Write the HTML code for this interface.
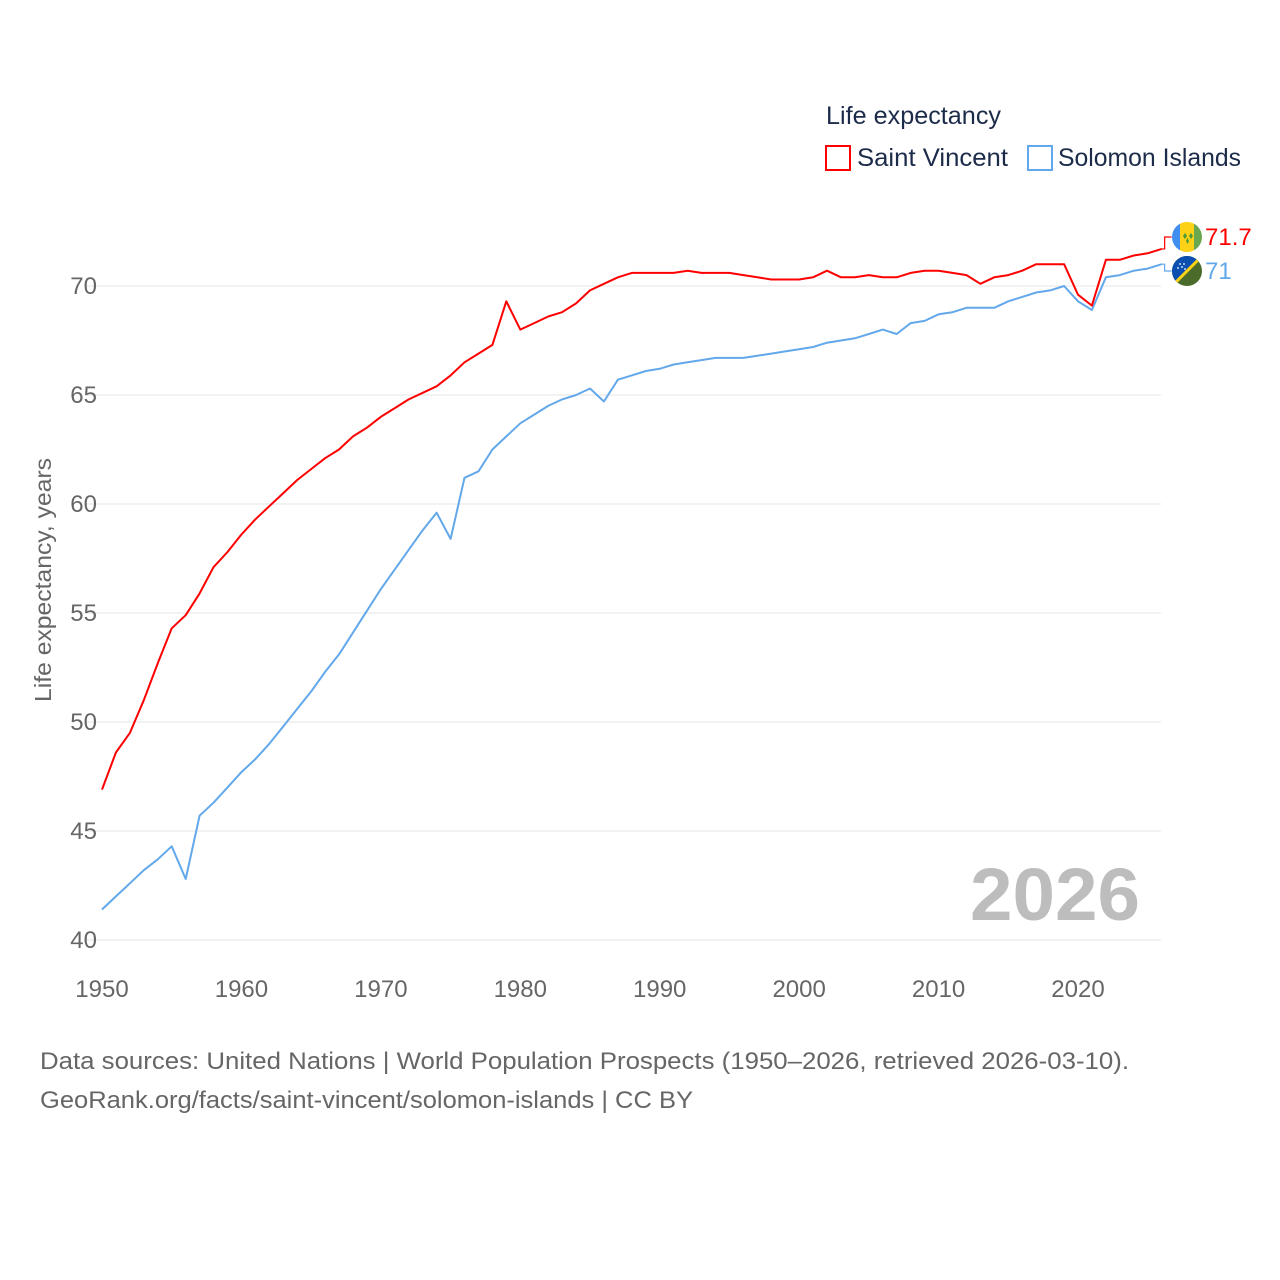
<!DOCTYPE html>
<html><head><meta charset="utf-8"><style>
html,body{margin:0;padding:0;background:#fff;}
svg{display:block;font-family:"Liberation Sans",sans-serif;}
</style></head><body>
<svg id="chart" width="1280" height="1280" viewBox="0 0 1280 1280">
  <g id="grid"></g>
  <g id="yticks"></g>
  <g id="xticks"></g>
  <text transform="translate(51,580) rotate(-90)" text-anchor="middle" font-size="23" fill="#666" textLength="244" lengthAdjust="spacingAndGlyphs">Life expectancy, years</text>
  <text x="1140" y="920" text-anchor="end" font-size="74" font-weight="bold" fill="#bdbdbd" textLength="170" lengthAdjust="spacingAndGlyphs">2026</text>
  <g id="lines"></g>
  <g>
    <text x="826" y="124" font-size="25" fill="#1c2b4a" textLength="175" lengthAdjust="spacingAndGlyphs">Life expectancy</text>
    <rect x="826" y="146" width="24" height="24" fill="#fff" stroke="#ff0000" stroke-width="2"/>
    <text x="857" y="166" font-size="25" fill="#1c2b4a" textLength="151" lengthAdjust="spacingAndGlyphs">Saint Vincent</text>
    <rect x="1028" y="146" width="24" height="24" fill="#fff" stroke="#62a8ea" stroke-width="2"/>
    <text x="1058" y="166" font-size="25" fill="#1c2b4a" textLength="183" lengthAdjust="spacingAndGlyphs">Solomon Islands</text>
  </g>
  <g>
    <clipPath id="c1"><circle cx="1187" cy="237" r="15"/></clipPath>
    <g clip-path="url(#c1)">
      <rect x="1172" y="222" width="8" height="30" fill="#3f8ef0"/>
      <rect x="1180" y="222" width="14" height="30" fill="#fcd116"/>
      <rect x="1194" y="222" width="8" height="30" fill="#6aa84f"/>
      <path d="M1183 236 l2 -3 l2 3 l-2 3z M1189 236 l2 -3 l2 3 l-2 3z M1186 241 l1.5 -3 l1.5 3 l-1.5 3z" fill="#4a9a3a"/>
    </g>
  </g>
  <g>
    <clipPath id="c2"><circle cx="1187" cy="271" r="15"/></clipPath>
    <g clip-path="url(#c2)">
      <rect x="1172" y="256" width="30" height="30" fill="#4b6b2a"/>
      <path d="M1172 256 L1202 256 L1172 286 Z" fill="#0b4fb0"/>
      <line x1="1202" y1="256" x2="1172" y2="286" stroke="#fcd116" stroke-width="3"/>
      <circle cx="1180" cy="264" r="0.9" fill="#fff"/><circle cx="1184" cy="264" r="0.9" fill="#fff"/><circle cx="1182" cy="267" r="0.9" fill="#fff"/><circle cx="1178" cy="268" r="0.9" fill="#fff"/><circle cx="1185" cy="269" r="0.9" fill="#fff"/>
    </g>
  </g>
  <text x="1205" y="245" font-size="24" fill="#ff0000">71.7</text>
  <text x="1205" y="279" font-size="24" fill="#62a8ea">71</text>
  <text x="40" y="1069" font-size="24" fill="#666" textLength="1089" lengthAdjust="spacingAndGlyphs">Data sources: United Nations | World Population Prospects (1950–2026, retrieved 2026-03-10).</text>
  <text x="40" y="1108" font-size="24" fill="#666" textLength="653" lengthAdjust="spacingAndGlyphs">GeoRank.org/facts/saint-vincent/solomon-islands | CC BY</text>
</svg>
<script>
const years = [];
for (let y = 1950; y <= 2026; y++) years.push(y);
const saintVincent = [46.9,48.6,49.5,51.0,52.7,54.3,54.9,55.9,57.1,57.8,58.6,59.3,59.9,60.5,61.1,61.6,62.1,62.5,63.1,63.5,64.0,64.4,64.8,65.1,65.4,65.9,66.5,66.9,67.3,69.3,68.0,68.3,68.6,68.8,69.2,69.8,70.1,70.4,70.6,70.6,70.6,70.6,70.7,70.6,70.6,70.6,70.5,70.4,70.3,70.3,70.3,70.4,70.7,70.4,70.4,70.5,70.4,70.4,70.6,70.7,70.7,70.6,70.5,70.1,70.4,70.5,70.7,71.0,71.0,71.0,69.6,69.1,71.2,71.2,71.4,71.5,71.7];
const solomonIslands = [41.4,42.0,42.6,43.2,43.7,44.3,42.8,45.7,46.3,47.0,47.7,48.3,49.0,49.8,50.6,51.4,52.3,53.1,54.1,55.1,56.1,57.0,57.9,58.8,59.6,58.4,61.2,61.5,62.5,63.1,63.7,64.1,64.5,64.8,65.0,65.3,64.7,65.7,65.9,66.1,66.2,66.4,66.5,66.6,66.7,66.7,66.7,66.8,66.9,67.0,67.1,67.2,67.4,67.5,67.6,67.8,68.0,67.8,68.3,68.4,68.7,68.8,69.0,69.0,69.0,69.3,69.5,69.7,69.8,70.0,69.3,68.9,70.4,70.5,70.7,70.8,71.0];
const yTicks = [40,45,50,55,60,65,70];
const xTicks = [1950,1960,1970,1980,1990,2000,2010,2020];

const NS = 'http://www.w3.org/2000/svg';
const xScale = y => 102 + (y - 1950) * (1078 - 102) / 70;
const yScale = v => 940 - (v - 40) * (940 - 286) / 30;
function mk(tag, attrs, parent) {
  const e = document.createElementNS(NS, tag);
  for (const k in attrs) e.setAttribute(k, attrs[k]);
  parent.appendChild(e);
  return e;
}
const grid = document.getElementById('grid');
const yt = document.getElementById('yticks');
const xt = document.getElementById('xticks');
yTicks.forEach(v => {
  const l = mk('line', {x1: 86, x2: 1161, y1: yScale(v), y2: yScale(v), stroke: '#e6e6e6', 'stroke-width': 1}, grid);
  
  
  const t = mk('text', {x: 97, y: yScale(v) + 8, 'text-anchor': 'end', 'font-size': 24, fill: '#666'}, yt);
  t.textContent = v;
  
  
});
xTicks.forEach(v => {
  const t = mk('text', {x: xScale(v), y: 997, 'text-anchor': 'middle', 'font-size': 24, fill: '#666'}, xt);
  t.textContent = v;
  
  
});
const lines = document.getElementById('lines');
function drawSeries(vals, color, name, labelY) {
  const pts = vals.map((v, i) => xScale(years[i]).toFixed(1) + ',' + yScale(v).toFixed(1));
  const p = mk('polyline', {points: pts.join(' '), fill: 'none', stroke: color, 'stroke-width': 2, 'stroke-linejoin': 'round'}, lines);
  
  
  const lx = xScale(years[years.length - 1]);
  const ly = yScale(vals[vals.length - 1]);
  const c = mk('polyline', {points: `${lx},${ly} ${lx+3},${ly} ${lx+3},${labelY} ${lx+10},${labelY}`, fill: 'none', stroke: color, 'stroke-width': 1.2}, lines);
  
  
}
drawSeries(solomonIslands, '#62a8ea', 'solomon-islands', 271);
drawSeries(saintVincent, '#ff0000', 'saint-vincent', 237);
</script>
</body></html>
